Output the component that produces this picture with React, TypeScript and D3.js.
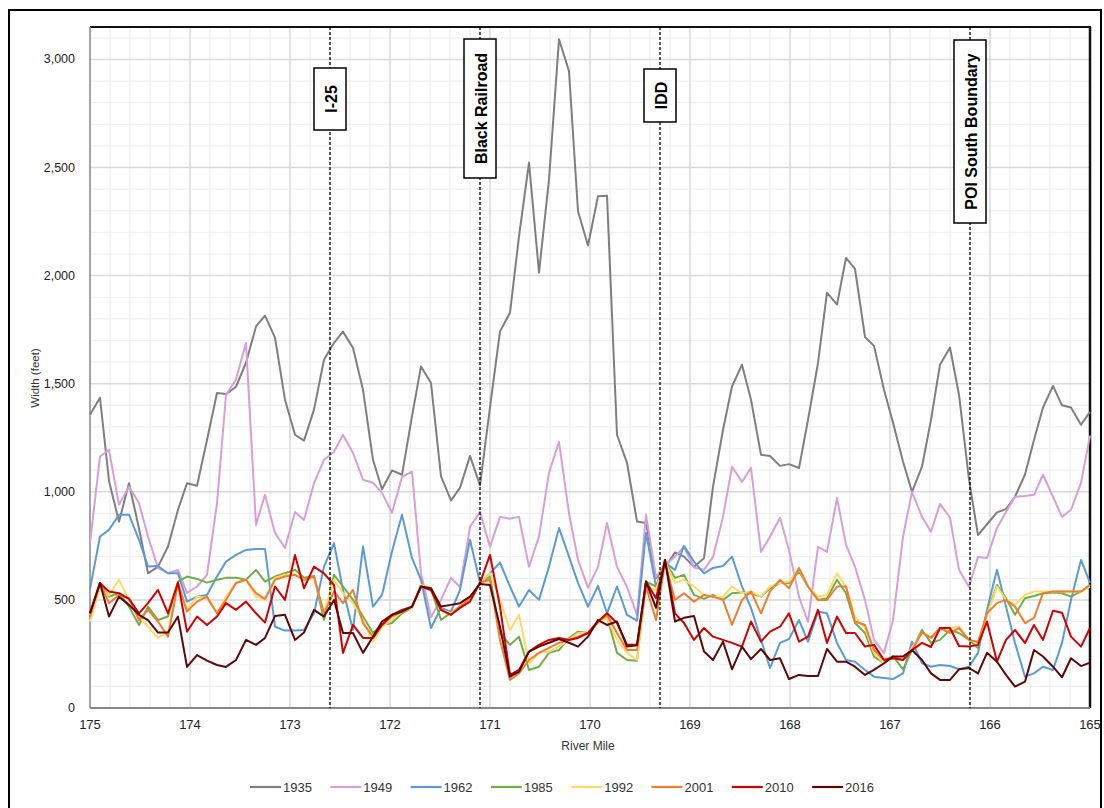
import React, { useEffect, useRef } from "react";
import * as d3 from "d3";

// river mile of each cross section
const riverMile = [
  175.0, 174.9, 174.81, 174.71, 174.61, 174.51, 174.42, 174.32, 174.22, 174.12,
  174.03, 173.93, 173.83, 173.73, 173.64, 173.54, 173.44, 173.34, 173.25, 173.15,
  173.05, 172.95, 172.86, 172.76, 172.66, 172.56, 172.47, 172.37, 172.27, 172.17,
  172.08, 171.98, 171.88, 171.78, 171.69, 171.59, 171.49, 171.39, 171.3, 171.2,
  171.1, 171.0, 170.9, 170.8, 170.71, 170.61, 170.51, 170.41, 170.31, 170.21,
  170.12, 170.02, 169.92, 169.83, 169.73, 169.63, 169.53, 169.44, 169.34, 169.25,
  169.15, 169.06, 168.96, 168.86, 168.77, 168.67, 168.58, 168.48, 168.39, 168.29,
  168.2, 168.1, 168.01, 167.91, 167.82, 167.72, 167.63, 167.53, 167.44, 167.35,
  167.25, 167.16, 167.06, 166.97, 166.87, 166.78, 166.68, 166.59, 166.5, 166.4,
  166.31, 166.21, 166.12, 166.03, 165.93, 165.84, 165.75, 165.65, 165.56, 165.47,
  165.37, 165.28, 165.19, 165.09, 165.0,
];

const width1935 = [
  1356, 1435, 1050, 862, 1040, 830, 623, 654, 747, 917,
  1040, 1028, 1240, 1457, 1452, 1486, 1597, 1765, 1815, 1713,
  1426, 1264, 1237, 1380, 1611, 1689, 1741, 1665, 1472, 1148,
  1012, 1099, 1079, 1349, 1580, 1503, 1071, 960, 1018, 1166,
  1030, 1390, 1742, 1828, 2181, 2523, 2014, 2444, 3093, 2946,
  2298, 2139, 2367, 2370, 1264, 1134, 863, 856, 600, 650,
  720, 700, 653, 693, 1024, 1287, 1487, 1588, 1426, 1171,
  1166, 1120, 1128, 1110, 1333, 1596, 1921, 1866, 2082, 2031,
  1716, 1675, 1472, 1320, 1140, 1000, 1116, 1333, 1588, 1667,
  1449, 1056, 800, 850, 905, 920, 977, 1080, 1240, 1390,
  1490, 1400, 1390, 1310, 1370,
];

const width1949 = [
  762, 1164, 1194, 940, 1024, 948, 793, 648, 623, 639,
  532, 562, 616, 948, 1449, 1519, 1689, 847, 986, 810,
  740, 907, 870, 1040, 1148, 1185, 1264, 1180, 1056, 1042,
  995, 903, 1069, 1093, 623, 421, 500, 602, 560, 838,
  907, 745, 884, 875, 884, 653, 793, 1088, 1231, 901,
  685, 556, 653, 856, 653, 560, 431, 894, 606, 662,
  700, 745, 650, 639, 699, 884, 1116, 1046, 1111, 722,
  792, 880, 731, 514, 398, 745, 722, 972, 755, 653,
  500, 315, 255, 407, 792, 1000, 884, 815, 944, 880,
  639, 560, 699, 694, 833, 907, 977, 981, 986, 1079,
  977, 884, 917, 1041, 1260,
];

const width1962 = [
  550, 793, 824, 894, 894, 778, 654, 657, 623, 623,
  492, 515, 523, 608, 677, 708, 731, 736, 736, 376,
  358, 358, 361, 438, 654, 762, 546, 361, 747, 469,
  523, 724, 894, 694, 593, 370, 463, 446, 546, 778,
  579, 623, 673, 562, 469, 546, 500, 654, 833, 700,
  579, 469, 565, 438, 562, 431, 404, 810, 562, 671,
  639, 750, 677, 623, 648, 657, 700, 562, 463, 315,
  185, 301, 319, 407, 307, 446, 438, 301, 222, 214,
  176, 145, 139, 134, 160, 307, 207, 191, 199, 194,
  179, 191, 255, 454, 639, 469, 301, 145, 160, 191,
  176, 301, 500, 685, 579,
];

const width1985 = [
  440, 578, 515, 531, 469, 384, 469, 407, 423, 585,
  608, 597, 580, 593, 602, 602, 593, 639, 585, 608,
  623, 639, 602, 611, 407, 616, 562, 500, 423, 347,
  384, 393, 438, 463, 569, 554, 407, 441, 469, 500,
  579, 608, 347, 292, 330, 176, 191, 255, 268, 324,
  353, 347, 393, 423, 255, 222, 219, 585, 562, 677,
  602, 616, 523, 505, 523, 500, 531, 534, 531, 515,
  554, 578, 578, 631, 562, 500, 508, 593, 531, 393,
  347, 238, 207, 240, 179, 268, 361, 301, 315, 361,
  347, 315, 278, 438, 569, 508, 431, 508, 518, 531,
  534, 531, 515, 539, 569,
];

const width1992 = [
  400, 555, 520, 593, 500, 423, 376, 324, 353, 578,
  454, 515, 508, 438, 515, 578, 593, 515, 500, 602,
  616, 616, 593, 602, 438, 593, 531, 485, 407, 307,
  376, 407, 446, 463, 569, 554, 454, 438, 469, 500,
  579, 623, 500, 361, 431, 207, 255, 261, 284, 315,
  347, 347, 393, 417, 315, 255, 222, 562, 546, 677,
  579, 593, 562, 523, 515, 515, 562, 531, 539, 515,
  562, 578, 585, 643, 562, 515, 523, 623, 562, 423,
  370, 255, 207, 230, 222, 278, 347, 330, 361, 370,
  376, 315, 301, 430, 562, 500, 477, 523, 539, 539,
  539, 539, 539, 539, 562,
];

const width2001 = [
  420, 578, 485, 523, 508, 407, 454, 400, 330, 578,
  446, 492, 515, 438, 500, 578, 593, 531, 505, 593,
  608, 616, 593, 608, 438, 539, 485, 546, 393, 330,
  384, 423, 446, 469, 562, 546, 454, 431, 469, 508,
  579, 593, 315, 130, 160, 222, 255, 278, 301, 315,
  330, 347, 400, 431, 347, 268, 268, 562, 407, 671,
  500, 531, 492, 523, 515, 500, 384, 500, 539, 438,
  539, 593, 554, 648, 562, 500, 500, 562, 562, 400,
  384, 268, 222, 238, 222, 268, 349, 324, 370, 347,
  370, 315, 305, 438, 485, 500, 469, 393, 417, 531,
  539, 539, 539, 539, 569,
];

const width2010 = [
  438, 578, 539, 531, 505, 438, 485, 546, 438, 580,
  353, 423, 384, 423, 485, 454, 492, 438, 395, 562,
  500, 708, 554, 654, 623, 569, 255, 384, 324, 324,
  384, 431, 454, 469, 562, 546, 454, 431, 463, 492,
  579, 708, 469, 153, 176, 261, 292, 315, 324, 315,
  324, 347, 400, 438, 393, 292, 292, 585, 508, 685,
  438, 393, 315, 370, 330, 315, 301, 284, 400, 307,
  353, 376, 438, 307, 330, 454, 301, 423, 347, 347,
  284, 292, 222, 230, 222, 268, 301, 282, 370, 370,
  287, 284, 292, 400, 214, 315, 361, 301, 384, 315,
  450, 441, 330, 284, 370,
];

const width2016 = [
  438, 578, 423, 515, 477, 431, 407, 349, 349, 423,
  190, 245, 219, 199, 190, 222, 315, 292, 324, 426,
  431, 315, 349, 454, 423, 500, 347, 347, 255, 330,
  400, 431, 446, 469, 562, 554, 469, 477, 485, 515,
  574, 569, 376, 145, 168, 261, 284, 302, 319, 302,
  284, 330, 407, 384, 400, 284, 290, 585, 463, 685,
  400, 417, 426, 261, 222, 307, 179, 284, 226, 273,
  222, 230, 134, 153, 148, 148, 273, 214, 214, 191,
  153, 176, 207, 238, 238, 268, 222, 160, 130, 130,
  179, 185, 160, 255, 214, 153, 99, 122, 268, 238,
  191, 142, 230, 194, 210,
];

const years = ["1935", "1949", "1962", "1985", "1992", "2001", "2010", "2016"];
const seriesValues = [width1935, width1949, width1962, width1985, width1992, width2001, width2010, width2016];
const seriesColors = ["#7f7f7f", "#d79fd5", "#5b9bd5", "#70ad47", "#ffd966", "#ed7d31", "#d00000", "#5c0808"];

const yTicks = [0, 500, 1000, 1500, 2000, 2500, 3000];
const xTicks = [175, 174, 173, 172, 171, 170, 169, 168, 167, 166, 165];

const landmarkMiles = [172.6, 171.1, 169.3, 166.2];
const landmarkLabels = ["I-25", "Black Railroad", "IDD", "POI South Boundary"];
// text boxes placed by hand in the original (pixel top / bottom)
const landmarkBoxTop = [68, 39, 69, 40];
const landmarkBoxBottom = [130, 178, 122, 223];

const W = 1104;
const H = 808;
const FONT = "'Liberation Sans', Arial, sans-serif";

export default function App() {
  const ref = useRef<SVGSVGElement>(null);

  useEffect(() => {
    const svg = d3.select(ref.current);
    svg.selectAll("*").remove();

    const left = 90, right = 1090, top = 27, bottom = 708;

    const x = d3.scaleLinear().domain([175, 165]).range([left, right]);
    const y = d3.scaleLinear().domain([0, 3150]).range([bottom, top]);

    svg.append("rect").attr("width", W).attr("height", H).attr("fill", "#fff");

    // outer chart frame
    svg.append("rect")
      .attr("x", 9).attr("y", 10)
      .attr("width", 1092).attr("height", 820)
      .attr("fill", "none").attr("stroke", "#000").attr("stroke-width", 2);

    const grid = svg.append("g");
    // minor grid
    grid.selectAll(".ymin")
      .data(d3.range(100, 3150, 100).filter((v) => v % 500 !== 0))
      .enter().append("line")
      .attr("x1", left).attr("x2", right)
      .attr("y1", (d) => y(d)).attr("y2", (d) => y(d))
      .attr("stroke", "#efefef").attr("stroke-width", 1.2);
    grid.selectAll(".xmin")
      .data(d3.range(1, 50).map((i) => 175 - i * 0.2).filter((_, i) => (i + 1) % 5 !== 0))
      .enter().append("line")
      .attr("x1", (d) => x(d)).attr("x2", (d) => x(d))
      .attr("y1", top).attr("y2", bottom)
      .attr("stroke", "#efefef").attr("stroke-width", 1.2);
    // major grid
    grid.selectAll(".ymaj")
      .data(yTicks.slice(1))
      .enter().append("line")
      .attr("x1", left).attr("x2", right)
      .attr("y1", (d) => y(d)).attr("y2", (d) => y(d))
      .attr("stroke", "#d9d9d9").attr("stroke-width", 1.5);
    grid.selectAll(".xmaj")
      .data(xTicks.slice(1, -1))
      .enter().append("line")
      .attr("x1", (d) => x(d)).attr("x2", (d) => x(d))
      .attr("y1", top).attr("y2", bottom)
      .attr("stroke", "#d9d9d9").attr("stroke-width", 1.5);

    // plot border
    svg.append("line").attr("x1", left).attr("x2", right + 1).attr("y1", top).attr("y2", top)
      .attr("stroke", "#111").attr("stroke-width", 2);
    svg.append("line").attr("x1", right).attr("x2", right).attr("y1", top).attr("y2", bottom)
      .attr("stroke", "#111").attr("stroke-width", 2.5);
    svg.append("line").attr("x1", left).attr("x2", left).attr("y1", top).attr("y2", bottom)
      .attr("stroke", "#868686").attr("stroke-width", 1.5);

    // series
    const line = d3.line<number>()
      .x((_, i) => x(riverMile[i]))
      .y((d) => y(d));

    const plot = svg.append("g");
    seriesValues.forEach((vals, k) => {
      plot.append("path")
        .datum(vals)
        .attr("d", line)
        .attr("fill", "none")
        .attr("stroke", seriesColors[k])
        .attr("stroke-width", 2)
        .attr("stroke-linejoin", "round");
    });

    svg.append("line").attr("x1", left).attr("x2", right).attr("y1", bottom).attr("y2", bottom)
      .attr("stroke", "#868686").attr("stroke-width", 2);

    // landmark lines and labels
    landmarkMiles.forEach((m, k) => {
      const lx = x(m);
      svg.append("line")
        .attr("x1", lx).attr("x2", lx).attr("y1", top).attr("y2", bottom)
        .attr("stroke", "#000").attr("stroke-width", 1.3)
        .attr("stroke-dasharray", "3,2");
      const boxTop = landmarkBoxTop[k];
      const boxH = landmarkBoxBottom[k] - boxTop;
      svg.append("rect")
        .attr("x", lx - 16).attr("y", boxTop)
        .attr("width", 32).attr("height", boxH)
        .attr("fill", "#fff").attr("stroke", "#000").attr("stroke-width", 1.5);
      svg.append("text")
        .attr("font-family", FONT).attr("font-size", 16).attr("font-weight", "bold")
        .attr("fill", "#000")
        .attr("text-anchor", "middle")
        .attr("dominant-baseline", "central")
        .attr("transform", `translate(${lx + 1},${boxTop + boxH / 2}) rotate(-90)`)
        .text(landmarkLabels[k]);
    });

    // y tick labels
    svg.selectAll(".ylab")
      .data(yTicks)
      .enter().append("text")
      .attr("x", 75).attr("y", (d) => y(d))
      .attr("text-anchor", "end").attr("dominant-baseline", "central")
      .attr("font-family", FONT).attr("font-size", 12.5).attr("fill", "#222")
      .text((d) => d3.format(",")(d));

    // x tick labels
    svg.selectAll(".xlab")
      .data(xTicks)
      .enter().append("text")
      .attr("x", (d) => x(d)).attr("y", 724)
      .attr("text-anchor", "middle").attr("dominant-baseline", "central")
      .attr("font-family", FONT).attr("font-size", 13).attr("fill", "#222")
      .text((d) => d);

    svg.append("text")
      .attr("x", 588).attr("y", 746)
      .attr("text-anchor", "middle").attr("dominant-baseline", "central")
      .attr("font-family", FONT).attr("font-size", 12).attr("fill", "#333")
      .text("River Mile");

    svg.append("text")
      .attr("transform", `translate(35,378) rotate(-90)`)
      .attr("text-anchor", "middle").attr("dominant-baseline", "central")
      .attr("font-family", FONT).attr("font-size", 11.5).attr("fill", "#333")
      .text("Width (feet)");

    // legend
    const legend = svg.append("g").attr("transform", "translate(250,787)");
    years.forEach((yr, k) => {
      const item = legend.append("g").attr("transform", `translate(${k * 80.3},0)`);
      item.append("line").attr("x1", 0).attr("x2", 31).attr("y1", 0).attr("y2", 0)
        .attr("stroke", seriesColors[k]).attr("stroke-width", 2.2);
      item.append("text")
        .attr("x", 33).attr("y", 0).attr("dominant-baseline", "central")
        .attr("font-family", "'Liberation Sans Narrow', 'Arial Narrow', " + FONT)
        .attr("font-size", 13).attr("fill", "#333")
        .text(yr);
    });
  }, []);

  return (
    <svg
      ref={ref}
      width={W}
      height={H}
      style={{ position: "absolute", left: 0, top: 0, display: "block" }}
    />
  );
}
